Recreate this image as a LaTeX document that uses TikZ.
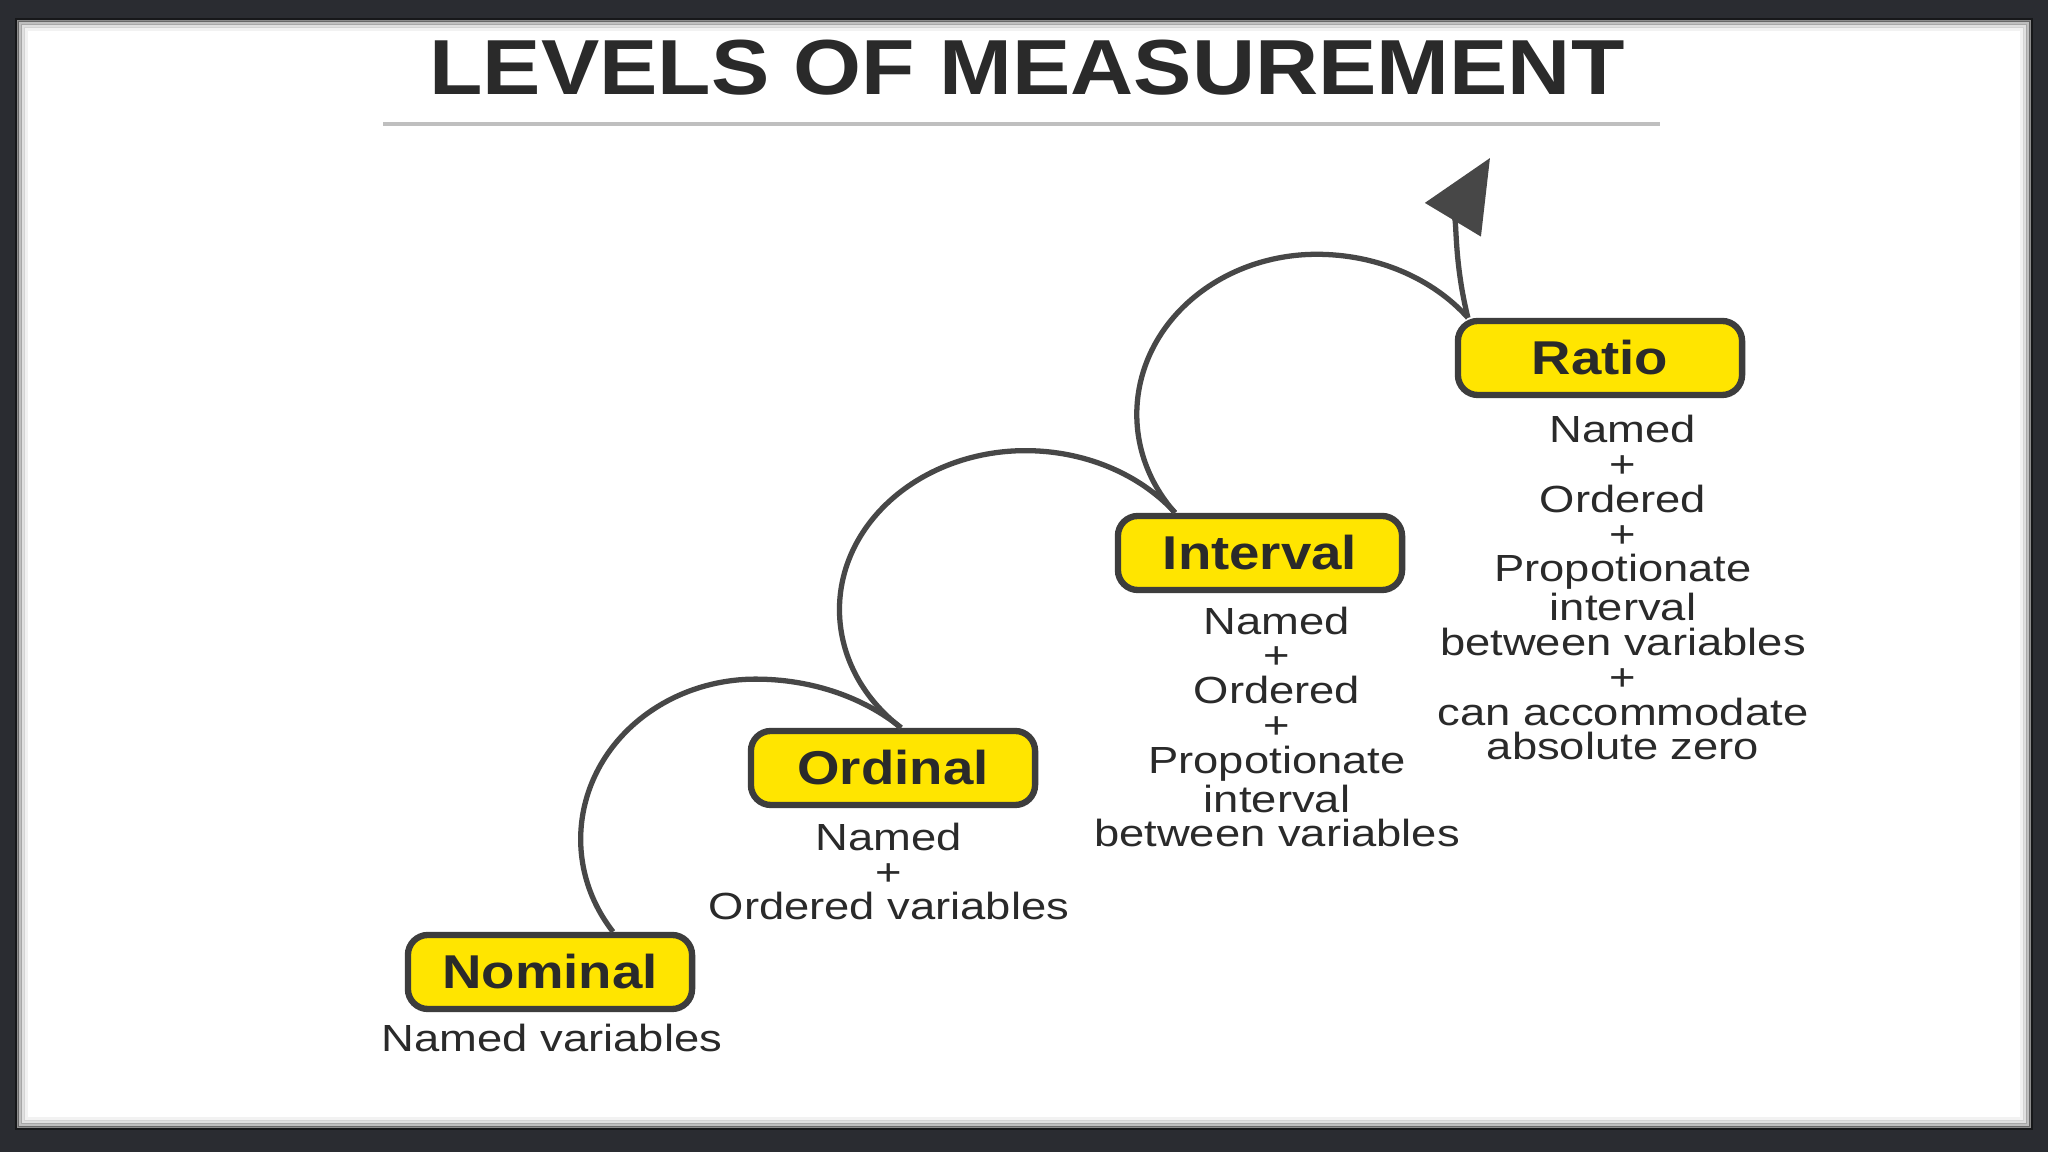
\documentclass[tikz,border=0pt]{standalone}
\usepackage{fontspec}
\usepackage{xcolor}
\usepackage{tikz}
\usetikzlibrary{arrows.meta}
\setmainfont{Liberation Sans}
\newfontfamily\titlefont[FakeStretch=1.12]{Liberation Sans}
\newfontfamily\levelfont[FakeStretch=1.15]{Liberation Sans}
\newfontfamily\notefont[FakeStretch=1.2]{Liberation Sans}
\definecolor{lvlyellow}{HTML}{FFE500}
\definecolor{boxline}{HTML}{3D3D3D}
\definecolor{arcgray}{HTML}{474747}
\definecolor{lvltext}{HTML}{2A2A2A}
\definecolor{framedark}{HTML}{2A2C31}
\definecolor{rulegray}{HTML}{BFBFBF}

\begin{document}
\begin{tikzpicture}[x=0.01cm,y=0.01cm,
    level/.style={draw=boxline,line width=1.8pt,fill=lvlyellow,rounded corners=0.2cm,
        minimum width=2.84cm,minimum height=0.74cm,inner sep=0pt,text=lvltext,
        font=\levelfont\bfseries\fontsize{13.5}{14}\selectfont},
    note/.style={align=center,inner sep=0pt,anchor=base,text=lvltext,
        font=\notefont\fontsize{10.75}{9.9}\selectfont},
    climb/.style={draw=arcgray,line width=1.5pt}]
    \useasboundingbox (0,0) rectangle (2048,1152);
    % frame
    \fill[framedark] (0,0) rectangle (2048,1152);
    \fill[white] (17,24) rectangle (2031,1132);
    \foreach \d/\o in {0/0.45,3/0.25,6/0.12,9/0.05} {
        \draw[black,opacity=\o,line width=1pt] ({17+\d},{24+\d}) rectangle ({2031-\d},{1132-\d});
    }

    \node[anchor=base,text=lvltext,font=\titlefont\bfseries\fontsize{22.2}{24}\selectfont] (title) at (1027,1057) {LEVELS OF MEASUREMENT};
    \draw[rulegray,line width=1pt] (383,1028) -- (1660,1028);

    \node[level] (nom) at (550,180) {Nominal};
    \node[level] (ord) at (893,384) {Ordinal};
    \node[level] (int) at (1260,599) {Interval};
    \node[level] (rat) at (1600,794) {Ratio};

    % base = last line
    \node[note] (nomnote) at (552,100) {Named variables};
    \node[note] (ordnote) at (889,232) {Named\\+\\Ordered variables};
    \node[note] (intnote) at (1277,305) {Named\\+\\Ordered\\+\\Propotionate\\interval\\between variables};
    \node[note] (ratnote) at (1623,392) {Named\\+\\Ordered\\+\\Propotionate\\interval\\between variables\\+\\can accommodate\\absolute zero};

    % steps
    \draw[climb] ([xshift=0.63cm]nom.north) arc[start angle=215.4,end angle=90,x radius=175,y radius=160]
        arc[start angle=90,end angle=44.1,x radius=202.5,y radius=160];
    \draw[climb] ([xshift=0.08cm]ord.north) arc[start angle=228,end angle=90,x radius=186,y radius=159]
        arc[start angle=90,end angle=37.6,x radius=188.8,y radius=159];
    \draw[climb] ([xshift=-0.85cm]int.north) arc[start angle=218,end angle=90,x radius=180,y radius=160]
        arc[start angle=90,end angle=37.1,x radius=189.5,y radius=160];
    \coordinate (tip) at (1490,994);
    \draw[climb,-{Triangle[length=0.72cm,width=0.64cm]}] ([xshift=-1.32cm]rat.north) to[out=104,in=239] (tip);
\end{tikzpicture}
\end{document}
